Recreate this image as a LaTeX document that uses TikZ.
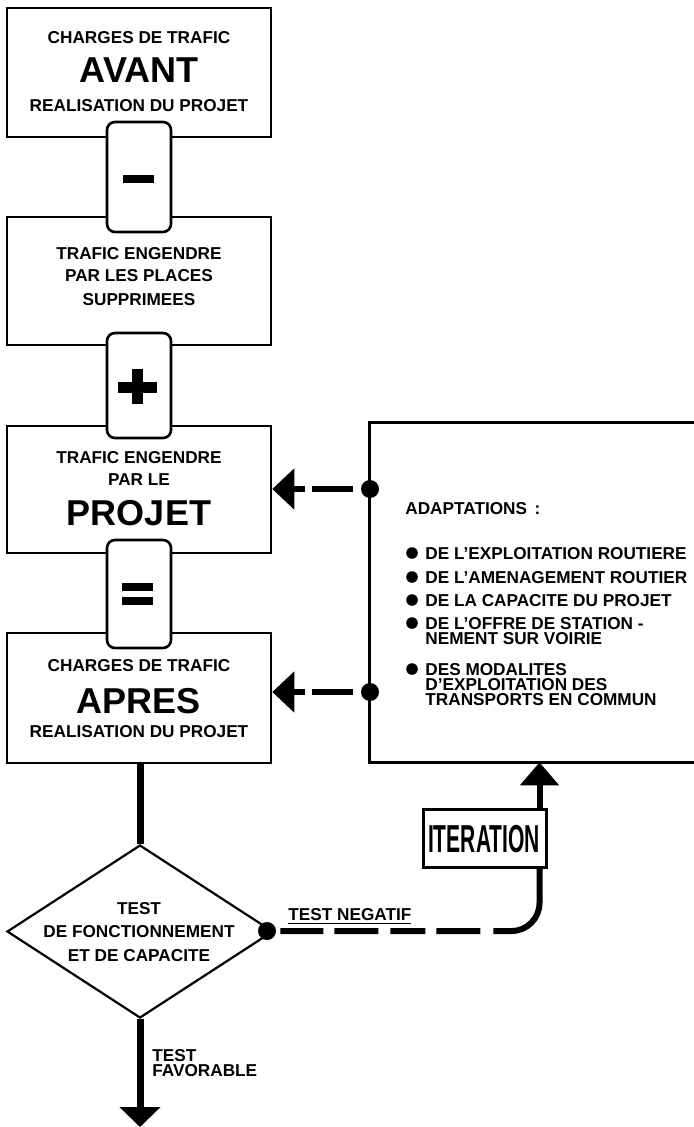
\documentclass[tikz,border=0pt]{standalone}
\usepackage{fontspec}
\setmainfont{Liberation Sans}
\usetikzlibrary{arrows.meta,shapes.geometric}
\begin{document}
\begin{tikzpicture}[x=0.5pt,y=-0.5pt,
  frame/.style={draw,line width=1.3pt,rectangle,inner sep=0pt,minimum width=132pt},
  tab/.style={draw,fill=white,line width=1.3pt,rectangle,rounded corners=4pt,inner sep=0pt,minimum width=32pt},
  sm/.style={font=\fontsize{8.6}{10}\selectfont\bfseries,inner sep=0pt,anchor=base},
  smw/.style={sm,anchor=base west},
  big/.style={font=\fontsize{18}{20}\selectfont\bfseries,inner sep=0pt,anchor=base},
  dot/.style={circle,fill,inner sep=0pt,minimum size=9pt},
  bul/.style={circle,fill,inner sep=0pt,minimum size=5.8pt},
  dasharrow/.style={line width=3pt,dash pattern=on 0pt off 4pt on 20.5pt off 3.5pt on 40pt,-{Triangle[length=11pt,width=20pt]}},
  thickline/.style={line width=3.5pt},
]
\useasboundingbox (0,0) rectangle (694,1127);

% left column boxes
\node[frame,minimum height=64.5pt] (b1) at (139,72.5) {};
\node[frame,minimum height=64pt] (b2) at (139,281) {};
\node[frame,minimum height=63.5pt] (b3) at (139,489.5) {};
\node[frame,minimum height=65pt] (b4) at (139,698) {};

% tabs
\node[tab,minimum height=55pt] (t1) at (139,177) {};
\node[tab,minimum height=52.5pt] (t2) at (139,385.5) {};
\node[tab,minimum height=54pt] (t3) at (139,594) {};

% signs
\fill (123,175) rectangle (154,183);
\fill (118,382) rectangle (157,393);
\fill (132,369) rectangle (143,404);
\fill (122,583) rectangle (153,591);
\fill (122,597) rectangle (153,605);

% texts
\node[sm] (b1a) at (139,44) {CHARGES DE TRAFIC};
\node[big] (b1b) at (139,83) {AVANT};
\node[sm] (b1c) at (139,112) {REALISATION DU PROJET};
\node[sm] (b2a) at (139,260) {TRAFIC ENGENDRE};
\node[sm] (b2b) at (139,282) {PAR LES PLACES};
\node[sm] (b2c) at (139,306) {SUPPRIMEES};
\node[sm] (b3a) at (139,464) {TRAFIC ENGENDRE};
\node[sm] (b3b) at (139,485) {PAR LE};
\node[big] (b3c) at (139,525) {PROJET};
\node[sm] (b4a) at (139,671) {CHARGES DE TRAFIC};
\node[big] (b4b) at (139,713) {APRES};
\node[sm] (b4c) at (139,737) {REALISATION DU PROJET};

% right box
\node[minimum width=162pt,minimum height=169.5pt,inner sep=0pt] (adapt) at (532,592.5) {};
\draw[line width=1.5pt] (adapt.north east) -- (adapt.north west) -- (adapt.south west) -- (adapt.south east);
\node[smw] (ad) at (405,514) {ADAPTATIONS \,:};
\node[bul] (u1) at (412,553) {};
\node[bul] (u2) at (412,577) {};
\node[bul] (u3) at (412,600) {};
\node[bul] (u4) at (412,623) {};
\node[bul] (u5) at (412,669) {};
\node[smw] (l1) at (425,559) {DE L’EXPLOITATION ROUTIERE};
\node[smw] (l2) at (425,583) {DE L’AMENAGEMENT ROUTIER};
\node[smw] (l3) at (425,606) {DE LA CAPACITE DU PROJET};
\node[smw] (l4a) at (425,629) {DE L’OFFRE DE STATION -};
\node[smw] (l4b) at (425,644) {NEMENT SUR VOIRIE};
\node[smw] (l5a) at (425,675) {DES MODALITES};
\node[smw] (l5b) at (425,690) {D’EXPLOITATION DES};
\node[smw] (l5c) at (425,705) {TRANSPORTS EN COMMUN};

% feedback arrows
\node[dot] (c1) at (370,489) {};
\node[dot] (c2) at (370,692) {};
\draw[dasharrow] (c1) -- (b3.east |- c1);
\draw[dasharrow] (c2) -- (b4.east |- c2);

% diamond
\node[diamond,draw,line width=1.1pt,inner sep=0pt,minimum width=133pt,minimum height=86.5pt] (dia) at (140,931.5) {};
\node[sm] (d1) at (139,914) {TEST};
\node[sm] (d2) at (139,937) {DE FONCTIONNEMENT};
\node[sm] (d3) at (139,961) {ET DE CAPACITE};
\draw[thickline] (dia.north |- b4.south) -- (dia.north);
\coordinate (out) at (140,1127);
\draw[thickline,-{Triangle[length=10pt,width=20pt]}] (dia.south) -- (out);
\node[smw] (fav1) at (152,1061) {TEST};
\node[smw] (fav2) at (152,1076) {FAVORABLE};

% iteration
\node[draw,line width=1.5pt,minimum width=61.5pt,minimum height=29pt,inner sep=0pt] (iter) at (484.5,838) {};
\node[font=\fontsize{19.5}{22}\selectfont\bfseries,inner sep=0pt,anchor=base] (itxt) at (484,852) {\scalebox{0.54}[1]{ITERATION}};
\coordinate (iu) at ([xshift=-4pt]iter.north east);
\coordinate (id) at ([xshift=-4pt]iter.south east);
\draw[line width=3pt,-{Triangle[length=11.5pt,width=19pt]}] (iu) -- (iu |- adapt.south);

\node[dot] (cn) at (267,931) {};
\draw[line width=3pt,rounded corners=14pt,dash pattern=on 0pt off 2pt on 21.5pt off 5.5pt on 22pt off 6pt on 17.5pt off 5.5pt on 22pt off 6.5pt on 150pt] (cn) -- (id |- cn) -- (id);
\node[smw] (neg) at (288,920) {\underline{TEST NEGATIF}};
\end{tikzpicture}
\end{document}
